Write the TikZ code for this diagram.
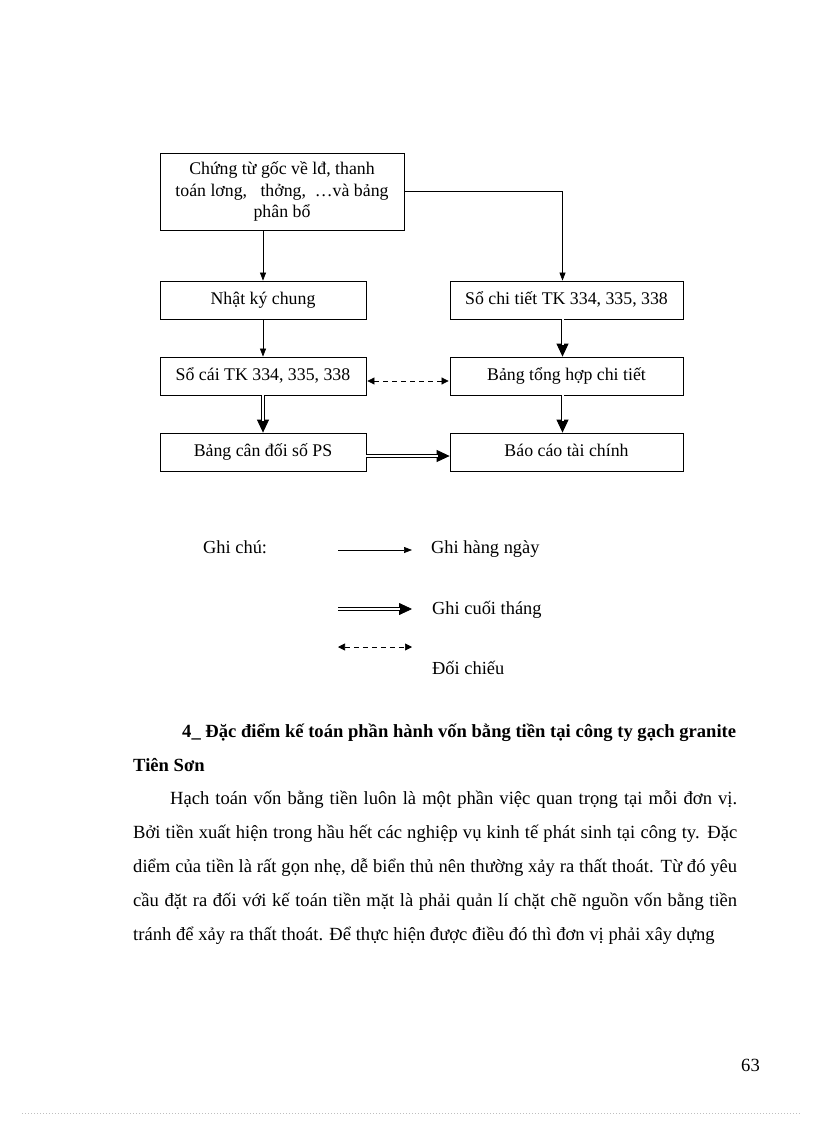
\documentclass[tikz,border=0pt]{standalone}
\usepackage{fontspec}
\setmainfont{Liberation Serif}
\usetikzlibrary{arrows.meta}
\begin{document}
\begin{tikzpicture}[x=1pt,y=-1pt,
  box/.style={draw,line width=0.8pt,minimum height=38pt,inner sep=0pt,text height=12.5pt,text depth=4pt,font=\fontsize{17.8}{22}\selectfont},
  thinarr/.style={line width=0.7pt,-{Triangle[width=6pt,length=8pt]}},
  dblhead/.style={line width=0.8pt,-{Triangle[width=12pt,length=13pt]}},
  dblshaft/.style={double,double distance=2pt,line width=0.8pt,shorten >=12pt},
  dasharr/.style={line width=0.7pt,dash pattern=on 5pt off 4pt,{Triangle[width=7pt,length=7pt]}-{Triangle[width=7pt,length=7pt]}},
  txt/.style={inner sep=0pt,anchor=base west,font=\fontsize{18.4}{22}\selectfont},
  bodytxt/.style={inner sep=0pt,anchor=base west,font=\fontsize{18.6}{22}\selectfont}]
\useasboundingbox (0,0) rectangle (816,1123);
% boxes
\node[box,minimum width=244pt,minimum height=77pt,align=center,text height=,text depth=] (top) at (282,191.5)
  {Chứng từ gốc về lđ, thanh\\[0.5pt]toán lơng,\ \ \ thởng,\ \ …và bảng\\[-1pt]phân bổ};
\node[box,minimum width=206pt] (nk) at (263,300) {Nhật ký chung};
\node[box,minimum width=233pt] (ct) at (566.5,300) {Sổ chi tiết TK 334, 335, 338};
\node[box,minimum width=206pt] (sc) at (263,376) {Sổ cái TK 334, 335, 338};
\node[box,minimum width=233pt] (th) at (566.5,376) {Bảng tổng hợp chi tiết};
\node[box,minimum width=206pt] (cd) at (263,452) {Bảng cân đối số PS};
\node[box,minimum width=233pt] (bc) at (566.5,452) {Báo cáo tài chính};
% connectors
\draw[thinarr] (top.south -| nk.north) -- (nk.north);
\draw[thinarr] ([yshift=0.5pt]top.east) -| ([xshift=-4pt]ct.north);
\draw[thinarr] (nk.south) -- (sc.north);
\draw[dblhead] ([xshift=-4pt]ct.south) -- ([xshift=-4pt]th.north);
\draw[dblshaft] ([xshift=-4pt]ct.south) -- ([xshift=-4pt]th.north);
\draw[dblhead] (sc.south) -- (cd.north);
\draw[dblshaft] (sc.south) -- (cd.north);
\draw[dblhead] ([xshift=-4pt]th.south) -- ([xshift=-4pt]bc.north);
\draw[dblshaft] ([xshift=-4pt]th.south) -- ([xshift=-4pt]bc.north);
\draw[dblhead] ([yshift=-4pt]cd.east) -- ([yshift=-4pt]bc.west);
\draw[dblshaft] ([yshift=-4pt]cd.east) -- ([yshift=-4pt]bc.west);
\draw[dasharr] ([xshift=1pt,yshift=-5pt]sc.east) -- ([xshift=-1pt,yshift=-5pt]th.west);
% legend
\node[txt] (gc) at (203,553) {Ghi chú:};
\coordinate (l1a) at (338,550); \coordinate (l1b) at (412,550);
\draw[thinarr] (l1a) -- (l1b);
\node[txt] (g1) at (431,553) {Ghi hàng ngày};
\coordinate (l2a) at (338,609); \coordinate (l2b) at (412,609);
\draw[dblhead] (l2a) -- (l2b);
\draw[dblshaft] (l2a) -- (l2b);
\node[txt] (g2) at (432,614) {Ghi cuối tháng};
\coordinate (l3a) at (338,647); \coordinate (l3b) at (412,647);
\draw[dasharr] (l3a) -- (l3b);
\node[txt] (g3) at (432,674) {Đối chiếu};
% text
\node[bodytxt] (h1) at (182,737) {\bfseries\makebox[554pt][s]{4\_ Đặc điểm kế toán phần hành vốn bằng tiền tại công ty gạch granite}};
\node[bodytxt] (h2) at (133,771) {\bfseries Tiên Sơn};
\node[bodytxt] (p1) at (170,804) {\makebox[567pt][s]{Hạch toán vốn bằng tiền luôn là một phần việc quan trọng tại mỗi đơn vị.}};
\node[bodytxt] (p2) at (133,838) {\makebox[604pt][s]{Bởi tiền xuất hiện trong hầu hết các nghiệp vụ kinh tế phát sinh tại công ty. Đặc}};
\node[bodytxt] (p3) at (133,872) {\makebox[604pt][s]{diểm của tiền là rất gọn nhẹ, dễ biển thủ nên thường xảy ra thất thoát. Từ đó yêu}};
\node[bodytxt] (p4) at (133,906) {\makebox[604pt][s]{cầu đặt ra đối với kế toán tiền mặt là phải quản lí chặt chẽ nguồn vốn bằng tiền}};
\node[bodytxt] (p5) at (133,940) {tránh để xảy ra thất thoát. Để thực hiện được điều đó thì đơn vị phải xây dựng};
\node[bodytxt] (pg) at (741,1071) {63};
\draw[gray!50,line width=0.6pt,dash pattern=on 1pt off 2pt] (22,1113) -- (800,1113);
\end{tikzpicture}
\end{document}
